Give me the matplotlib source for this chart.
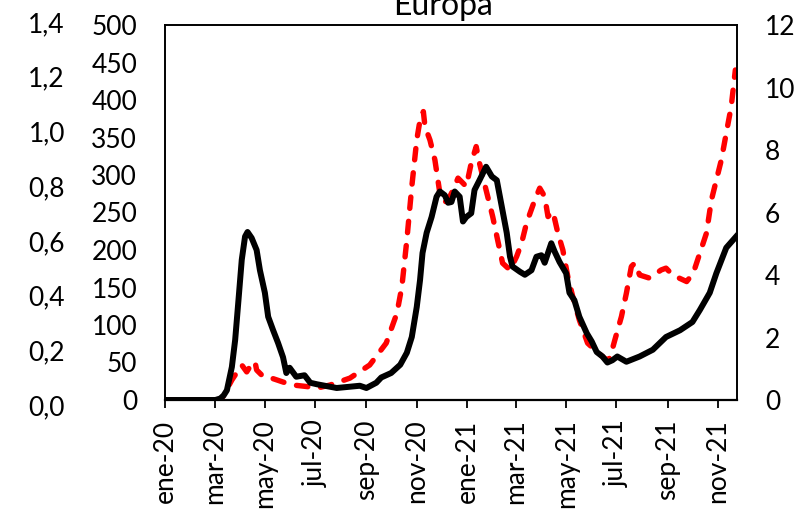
import numpy as np
import pandas as pd
import matplotlib
matplotlib.use("Agg")
import matplotlib.pyplot as plt

plt.rcParams["font.family"] = ["Lato", "DejaVu Sans"]

# black line (left axis, 0-500)
black_dates = [
    "2020-01-01", "2020-03-02", "2020-03-08", "2020-03-12", "2020-03-16", "2020-03-22",
    "2020-03-26", "2020-03-30", "2020-04-03", "2020-04-07", "2020-04-10", "2020-04-15",
    "2020-04-21", "2020-04-25", "2020-05-01", "2020-05-05", "2020-05-11", "2020-05-17",
    "2020-05-23", "2020-05-27", "2020-05-31", "2020-06-08", "2020-06-18", "2020-06-25",
    "2020-07-03", "2020-07-27", "2020-08-24", "2020-09-01", "2020-09-13", "2020-09-19",
    "2020-10-01", "2020-10-12", "2020-10-20", "2020-10-26", "2020-11-01", "2020-11-05",
    "2020-11-08", "2020-11-13", "2020-11-19", "2020-11-25", "2020-11-29", "2020-12-05",
    "2020-12-09", "2020-12-13", "2020-12-17", "2020-12-23", "2020-12-27", "2020-12-31",
    "2021-01-06", "2021-01-10", "2021-01-16", "2021-01-24", "2021-01-31", "2021-02-06",
    "2021-02-12", "2021-02-18", "2021-02-22", "2021-02-25", "2021-03-06", "2021-03-12",
    "2021-03-20", "2021-03-26", "2021-04-01", "2021-04-05", "2021-04-09", "2021-04-13",
    "2021-04-17", "2021-04-23", "2021-05-01", "2021-05-05", "2021-05-11", "2021-05-17",
    "2021-05-26", "2021-06-01", "2021-06-07", "2021-06-14", "2021-06-20", "2021-06-26",
    "2021-07-02", "2021-07-13", "2021-07-29", "2021-08-14", "2021-08-30", "2021-09-16",
    "2021-10-01", "2021-10-10", "2021-10-22", "2021-10-30", "2021-11-11", "2021-11-23",
]
black_values = [
    0, 0, 2, 6, 13, 44,
    80, 133, 187, 218, 224, 216,
    200, 173, 143, 111, 93, 76,
    57, 36, 43, 31, 33, 23,
    21, 16, 19, 16, 23, 30,
    36, 47, 63, 84, 124, 160,
    196, 223, 244, 271, 278, 273,
    263, 264, 278, 271, 238, 244,
    249, 280, 293, 311, 298, 293,
    258, 223, 191, 178, 171, 167,
    173, 191, 193, 183, 196, 209,
    198, 184, 169, 143, 133, 111,
    89, 78, 64, 58, 50, 53,
    58, 51, 58, 67, 84, 93,
    104, 120, 143, 169, 203, 218,
]

# red dashed line (right axis, 0-12)
red_dates = [
    "2020-01-01", "2020-03-08", "2020-03-11", "2020-03-22", "2020-04-03", "2020-04-09",
    "2020-04-13", "2020-04-19", "2020-04-21", "2020-04-29", "2020-05-09", "2020-05-27",
    "2020-06-04", "2020-06-21", "2020-07-03", "2020-07-19", "2020-08-12", "2020-09-05",
    "2020-09-25", "2020-10-08", "2020-10-14", "2020-10-20", "2020-10-26", "2020-11-01",
    "2020-11-05", "2020-11-09", "2020-11-11", "2020-11-17", "2020-11-23", "2020-11-29",
    "2020-12-03", "2020-12-09", "2020-12-15", "2020-12-21", "2020-12-27", "2020-12-31",
    "2021-01-06", "2021-01-12", "2021-01-16", "2021-01-24", "2021-02-01", "2021-02-07",
    "2021-02-13", "2021-02-22", "2021-03-02", "2021-03-08", "2021-03-14", "2021-03-24",
    "2021-03-30", "2021-04-05", "2021-04-09", "2021-04-15", "2021-04-21", "2021-04-27",
    "2021-05-03", "2021-05-09", "2021-05-17", "2021-05-27", "2021-06-07", "2021-06-19",
    "2021-06-23", "2021-06-29", "2021-07-07", "2021-07-13", "2021-07-19", "2021-07-23",
    "2021-07-29", "2021-08-10", "2021-08-24", "2021-08-30", "2021-09-07", "2021-09-15",
    "2021-09-24", "2021-10-02", "2021-10-10", "2021-10-18", "2021-10-24", "2021-10-30",
    "2021-11-05", "2021-11-11", "2021-11-17", "2021-11-22",
]
red_values = [
    0, 0, 0.1, 0.64, 1.12, 0.9,
    1.07, 1.23, 0.96, 0.75, 0.7, 0.54,
    0.48, 0.43, 0.38, 0.48, 0.7, 1.12,
    1.82, 2.78, 3.63, 5.12, 6.83, 8.32,
    8.96, 9.23, 8.75, 8.32, 7.68, 6.62,
    6.3, 6.4, 6.72, 7.1, 6.94, 6.83,
    7.58, 8.11, 7.58, 6.72, 5.87, 5.12,
    4.38, 4.16, 4.59, 5.02, 5.66, 6.4,
    6.78, 6.51, 5.87, 6.03, 5.34, 4.8,
    3.95, 3.31, 2.56, 1.82, 1.55, 1.28,
    1.34, 1.92, 2.67, 3.42, 4.27, 4.38,
    4.0, 3.9, 4.16, 4.22, 4.0, 3.9,
    3.79, 4.06, 4.7, 5.34, 6.4, 7.04,
    7.68, 8.54, 9.39, 10.56,
]

tick_dates = [
    "2020-01-01", "2020-03-01", "2020-05-01", "2020-07-01", "2020-09-01", "2020-11-01",
    "2021-01-01", "2021-03-01", "2021-05-01", "2021-07-01", "2021-09-01", "2021-11-01",
]
tick_labels = [
    "ene-20", "mar-20", "may-20", "jul-20", "sep-20", "nov-20",
    "ene-21", "mar-21", "may-21", "jul-21", "sep-21", "nov-21",
]

left_ticks = np.arange(0, 501, 50)
right_ticks = np.arange(0, 13, 2)
outer_ticks = np.arange(0, 1.41, 0.2)

FS = 19
W, H = 794, 517

fig = plt.figure(figsize=(W / 100, H / 100), dpi=100)

# outer axis (0,0 - 1,4), sits a bit lower than the main one
ax_o = fig.add_axes([165 / W, (H - 405) / H, 572 / W, 383 / H])
ax_o.set_ylim(0, 1.4)
ax_o.set_yticks(outer_ticks)
ax_o.set_yticklabels([f"{v:.1f}".replace(".", ",") for v in outer_ticks])
ax_o.tick_params(axis="y", length=0, pad=72, labelsize=FS)
ax_o.xaxis.set_visible(False)
for s in ax_o.spines.values():
    s.set_visible(False)
ax_o.patch.set_visible(False)

ax = fig.add_axes([165 / W, (H - 400) / H, 572 / W, 375 / H])
ax_r = ax.twinx()

ax_r.plot(pd.to_datetime(red_dates), red_values, color="#ff0000", lw=3.9,
          linestyle=(0, (2.1, 2.4)), dash_capstyle="round")
ax.plot(pd.to_datetime(black_dates), black_values, color="black", lw=4.3,
        solid_joinstyle="round")

# black line on top of the red one
ax.set_zorder(ax_r.get_zorder() + 1)
ax.patch.set_visible(False)

ax.set_xlim(pd.Timestamp("2020-01-01"), pd.Timestamp("2021-11-24"))
ax.set_ylim(0, 500)
ax_r.set_ylim(0, 12)
ax.set_yticks(left_ticks)
ax_r.set_yticks(right_ticks)
ax.tick_params(axis="y", length=0, pad=20, labelsize=FS)
ax_r.tick_params(axis="y", length=0, pad=20, labelsize=FS)

ax.set_xticks(pd.to_datetime(tick_dates))
ax.set_xticklabels(tick_labels, rotation=90)
ax.tick_params(axis="x", direction="out", length=6, width=1.3, pad=8, labelsize=FS)

for a in (ax, ax_r):
    for s in a.spines.values():
        s.set_linewidth(1.2)
ax.spines["bottom"].set_linewidth(1.6)

fig.text(443 / W, 1 - 15 / H, "Europa", ha="center", va="baseline", fontsize=23)

fig.savefig("out.png", dpi=100)
